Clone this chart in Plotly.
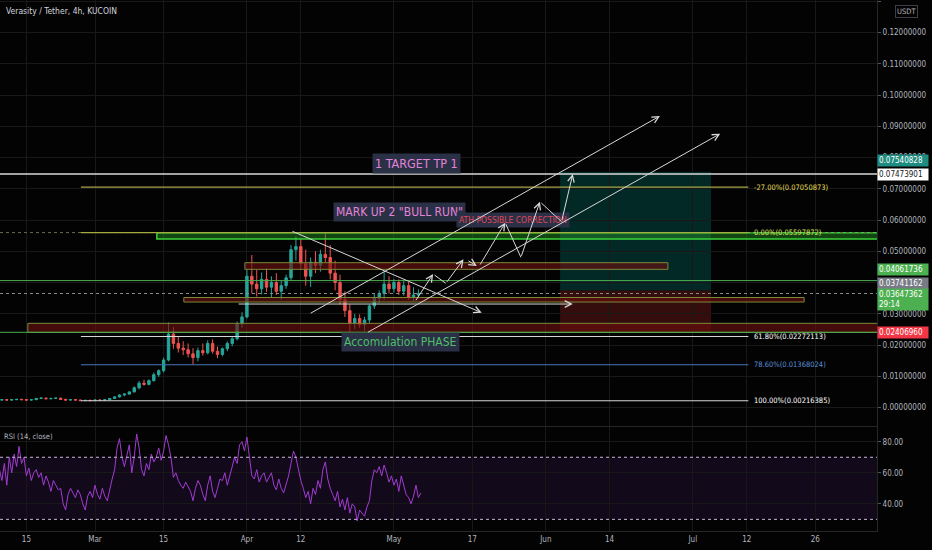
import pandas as pd
import plotly.graph_objects as go
from plotly.subplots import make_subplots

FONT = "Liberation Sans Narrow, DejaVu Sans Condensed, Arial Narrow, sans-serif"

# VRA/USDT candles, condensed to one per day from the 4h chart (Feb 9 .. May 6, 2021)
candle_start = "2021-02-09"
opens = [
    .0023, .0024, .0025, .0024, .0025, .0026, .0025, .0024, .0025, .0029,
    .0030, .0028, .0029, .0030, .0026, .0024, .0025, .0024, .0022, .0023,
    .0022, .0024, .0023, .0025, .0029, .0034, .0040, .0043, .0050, .0063,
    .0078, .0074, .0086, .0105, .0118, .0152, .0235, .0205, .0190, .0185,
    .0172, .0160, .0182, .0175, .0205, .0180, .0170, .0188, .0205, .0220, .0268,
    .0290, .0420, .0395, .0380, .0410, .0385, .0400, .0372, .0390, .0415,
    .0505, .0515, .0460, .0420, .0465, .0455, .0490, .0480, .0430, .0400,
    .0345, .0310, .0270, .0285, .0265, .0280, .0325, .0350, .0365, .0395,
    .0380, .0400, .0372, .0390, .0352, .0360,
]
highs = [
    .0026, .0027, .0027, .0026, .0028, .0028, .0027, .0026, .0030, .0033,
    .0032, .0031, .0032, .0031, .0028, .0027, .0027, .0025, .0024, .0025,
    .0025, .0026, .0026, .0030, .0036, .0042, .0045, .0052, .0068, .0085,
    .0089, .0090, .0112, .0122, .0160, .0272, .0258, .0228, .0212, .0205,
    .0190, .0192, .0205, .0215, .0218, .0195, .0192, .0212, .0228, .0275, .0305,
    .0440, .0488, .0440, .0432, .0445, .0420, .0430, .0405, .0425, .0520,
    .0547, .0540, .0505, .0480, .0500, .0505, .0558, .0520, .0470, .0425,
    .0372, .0330, .0300, .0298, .0290, .0330, .0365, .0375, .0435, .0420,
    .0412, .0410, .0405, .0402, .0385, .0378,
]
lows = [
    .0021, .0022, .0023, .0022, .0024, .0024, .0023, .0022, .0024, .0027,
    .0027, .0026, .0027, .0024, .0022, .0023, .0023, .0021, .0021, .0021,
    .0021, .0022, .0022, .0024, .0028, .0032, .0036, .0041, .0048, .0058,
    .0070, .0071, .0083, .0098, .0112, .0148, .0188, .0176, .0168, .0160,
    .0138, .0148, .0166, .0170, .0172, .0158, .0164, .0180, .0196, .0215, .0255,
    .0285, .0365, .0355, .0362, .0370, .0352, .0360, .0345, .0380, .0405,
    .0470, .0440, .0390, .0386, .0430, .0435, .0465, .0410, .0375, .0330,
    .0290, .0243, .0250, .0255, .0245, .0270, .0315, .0335, .0345, .0365,
    .0368, .0360, .0358, .0345, .0340, .0350,
]
closes = [
    .0024, .0025, .0024, .0025, .0026, .0025, .0024, .0025, .0029, .0030,
    .0028, .0029, .0030, .0026, .0024, .0025, .0024, .0022, .0023, .0022,
    .0024, .0023, .0025, .0029, .0034, .0040, .0043, .0050, .0063, .0078,
    .0074, .0086, .0105, .0118, .0152, .0235, .0205, .0190, .0185, .0172,
    .0160, .0182, .0175, .0205, .0180, .0170, .0188, .0205, .0220, .0268, .0290,
    .0420, .0395, .0380, .0410, .0385, .0400, .0372, .0390, .0415, .0505,
    .0515, .0460, .0420, .0465, .0455, .0490, .0480, .0430, .0400, .0345,
    .0310, .0270, .0285, .0265, .0280, .0325, .0350, .0365, .0395, .0380,
    .0400, .0372, .0390, .0352, .0360, .0365,
]
dates = pd.date_range(candle_start, periods=len(closes), freq="D")

# RSI(14) sampled twice a day
rsi_values = [
    76, 62, 55, 66, 52, 70, 60, 72, 64, 77, 66, 70, 58, 63, 55, 60, 62, 57, 60, 52,
    58, 54, 48, 55, 52, 49, 50, 40, 36, 46, 50, 47, 44, 49, 46, 40, 36, 45, 48, 44,
    52, 46, 43, 50, 45, 42, 50, 56, 62, 76, 82, 70, 64, 72, 78, 60, 70, 85, 76, 62,
    58, 66, 62, 72, 67, 70, 76, 68, 74, 84, 78, 70, 57, 60, 55, 52, 50, 54, 51, 48,
    42, 50, 55, 52, 46, 42, 52, 58, 48, 44, 50, 56, 55, 60, 52, 58, 64, 70, 66, 78,
    80, 74,
    83, 70, 58, 56, 62, 54, 58, 60, 54, 57, 60, 52, 49, 56, 50, 47, 52, 58, 66, 74,
    70, 62, 55, 50, 44, 48, 40, 50, 46, 55, 50, 62, 67, 56, 50, 46, 42, 48, 38, 43,
    36, 44, 34, 40, 38, 29, 36, 34, 32, 38, 42, 55, 62, 60, 64, 58, 65, 60, 54, 58,
    52, 56, 48, 58, 52, 46, 44, 40, 45, 52, 44, 47,
]
rsi_dates = pd.date_range(candle_start, periods=len(rsi_values), freq="12h")

tick_dates = ["2021-02-15", "2021-03-01", "2021-03-15", "2021-04-01", "2021-04-12", "2021-05-01",
              "2021-05-17", "2021-06-01", "2021-06-14", "2021-07-01", "2021-07-12", "2021-07-26"]
tick_text = ["15", "Mar", "15", "Apr", "12", "May", "17", "Jun", "14", "Jul", "12", "26"]

# price scale (0.04 sits under the price labels, so it has no text)
price_ticks = [0.00, 0.01, 0.02, 0.03, 0.04, 0.05, 0.06, 0.07, 0.08, 0.09, 0.10, 0.11, 0.12, 0.13]
price_tick_text = [f"{v:.8f}" if v != 0.04 else "" for v in price_ticks]

# Fib retracement drawing
fib_levels = [-0.27, 0.0, 0.618, 0.786, 1.0]
fib_prices = [0.07050873, 0.05597872, 0.02272113, 0.01368024, 0.00216385]
fib_line_colors = ["#a8a444", "#a3ad3e", "#d6d6d6", "#4677b8", "#d6d6d6"]
fib_text_colors = ["#e6df55", "#d6e158", "#ffffff", "#5b90d8", "#ffffff"]
fib_from, fib_to = "2021-02-26 03:00", "2021-07-12 08:00"

# supply / demand boxes (dark red with olive border)
zone_from = ["2021-02-15 07:00", "2021-03-31 14:00", "2021-03-19 03:00"]
zone_to = ["2021-09-30", "2021-06-25 22:00", "2021-07-23 17:00"]
zone_low = [0.02406, 0.04422, 0.03376]
zone_high = [0.02694, 0.04634, 0.03520]

# green resistance band
band_from, band_low, band_high = "2021-03-13 15:00", 0.05392, 0.05594

# long position tool
pos_from, pos_to = "2021-06-03 22:00", "2021-07-04 17:00"
pos_target, pos_entry, pos_stop = 0.07540828, 0.03741162, 0.02406960

# trend lines / projected path: start, end, arrowhead
arrow_from_date = ["2021-04-10", "2021-04-13 17:00", "2021-04-25 10:00", "2021-03-30",
                   "2021-05-05 07:00", "2021-05-09", "2021-05-11 14:00", "2021-05-15 22:00",
                   "2021-05-18 10:00", "2021-05-23 17:00", "2021-05-26 22:00", "2021-05-30 19:00",
                   "2021-06-04 05:00"]
arrow_from_price = [0.05658, 0.02992, 0.02384, 0.03312,
                    0.03386, 0.04272, 0.03974, 0.04720,
                    0.04528, 0.05914, 0.04806, 0.06586,
                    0.05946]
arrow_to_date = ["2021-05-18 22:00", "2021-06-24 07:00", "2021-07-06 14:00", "2021-06-06 12:00",
                 "2021-05-09", "2021-05-11 14:00", "2021-05-15 05:00", "2021-05-17 22:00",
                 "2021-05-23 17:00", "2021-05-26 22:00", "2021-05-30 19:00", "2021-06-04 05:00",
                 "2021-06-06 12:00"]
arrow_to_price = [0.03034, 0.09328, 0.08762, 0.03312,
                  0.04272, 0.03974, 0.04742, 0.04528,
                  0.05914, 0.04806, 0.06586, 0.05946,
                  0.07472]
arrow_head = [True, True, True, True, True, False, True, True, True, False, True, False, True]

# price labels on the right scale
label_prices = [0.07540828, 0.07473901, 0.04061736, 0.03741162, 0.03647362, 0.02406960]
label_extra = ["", "", "", "", "<br>29:14", ""]
label_bg = ["#1e8c80", "#ffffff", "#4caf50", "#787b86", "#4caf50", "#f23645"]
label_fg = ["#ffffff", "#131722", "#ffffff", "#ffffff", "#ffffff", "#ffffff"]
label_shift = [11, -1, 11, 7, -6, 0]

# text notes on the chart
note_text = ["1 TARGET TP 1", 'MARK UP 2 "BULL RUN"', "ATH POSSIBLE CORRECTION", "Accomulation PHASE"]
note_date = ["2021-05-05 17:00", "2021-05-02 02:00", "2021-05-25 05:00", "2021-05-02 10:00"]
note_price = [0.0781, 0.0627, 0.0600, 0.0211]
note_color = ["#e384d8", "#e384d8", "#e0475c", "#4fbf6a"]
note_size = [12.5, 12, 8.5, 12]

fig = make_subplots(rows=2, cols=1, shared_xaxes=True, vertical_spacing=0.002)

fig.add_trace(go.Candlestick(
    x=dates, open=opens, high=highs, low=lows, close=closes,
    increasing=dict(line=dict(color="#26a69a", width=1), fillcolor="#26a69a"),
    decreasing=dict(line=dict(color="#ef5350", width=1), fillcolor="#ef5350"),
    whiskerwidth=0, showlegend=False, hoverinfo="skip"), row=1, col=1)

fig.add_trace(go.Scatter(x=rsi_dates, y=rsi_values, mode="lines",
                         line=dict(color="#a23bd1", width=1), showlegend=False, hoverinfo="skip"),
              row=2, col=1)

# RSI band and 30/70 levels
fig.add_shape(type="rect", xref="paper", yref="y2", x0=0, x1=1, y0=30, y1=70,
              fillcolor="rgba(126,60,194,0.13)", line_width=0, layer="below")
for lvl in [30, 70]:
    fig.add_shape(type="line", xref="paper", yref="y2", x0=0, x1=1, y0=lvl, y1=lvl,
                  line=dict(color="#c8b8dc", width=1, dash="dot"))

# position tool
fig.add_shape(type="rect", xref="x", yref="y", x0=pos_from, x1=pos_to, y0=pos_entry, y1=pos_target,
              fillcolor="rgba(0,130,115,0.30)", line_width=0, layer="below")
fig.add_shape(type="rect", xref="x", yref="y", x0=pos_from, x1=pos_to, y0=pos_stop, y1=pos_entry,
              fillcolor="rgba(170,35,35,0.30)", line_width=0, layer="below")

# zones
for x0, x1, lo, hi in zip(zone_from, zone_to, zone_low, zone_high):
    fig.add_shape(type="rect", xref="x", yref="y", x0=x0, x1=x1, y0=lo, y1=hi,
                  fillcolor="rgba(110,14,14,0.62)", line=dict(color="#7b8a3a", width=1))
fig.add_shape(type="rect", xref="x", yref="y", x0=band_from, x1="2021-09-30", y0=band_low, y1=band_high,
              fillcolor="rgba(40,150,40,0.45)", line=dict(color="#3bd23b", width=1.5))

# fib levels
fig.add_shape(type="line", xref="paper", yref="y", x0=0, x1=1, y0=fib_prices[1], y1=fib_prices[1],
              line=dict(color="#6b6b4a", width=1, dash="dot"))
for lvl, p, lc, tc in zip(fib_levels, fib_prices, fib_line_colors, fib_text_colors):
    fig.add_shape(type="line", xref="x", yref="y", x0=fib_from, x1=fib_to, y0=p, y1=p,
                  line=dict(color=lc, width=1.2))
    fig.add_annotation(x="2021-07-13", y=p, xref="x", yref="y", text=f"{lvl * 100:.2f}%({p:.8f})",
                       showarrow=False, xanchor="left", font=dict(family=FONT, size=7.5, color=tc))

# horizontal lines across the chart
fig.add_shape(type="line", xref="paper", yref="y", x0=0, x1=1, y0=label_prices[1], y1=label_prices[1],
              line=dict(color="#d8d8d8", width=1.5))
for p in [label_prices[2], label_prices[5]]:
    fig.add_shape(type="line", xref="paper", yref="y", x0=0, x1=1, y0=p, y1=p,
                  line=dict(color="#4caf50", width=1))
fig.add_shape(type="line", xref="paper", yref="y", x0=0, x1=1, y0=label_prices[4], y1=label_prices[4],
              line=dict(color="#8a9088", width=1, dash="dot"))

# notes
for t, d, p, c, s in zip(note_text, note_date, note_price, note_color, note_size):
    fig.add_annotation(x=d, y=p, xref="x", yref="y", text=t, showarrow=False,
                       font=dict(family=FONT, size=s, color=c), bgcolor="#2a3045", borderpad=2)

# arrows and trend lines
for x0, y0, x1, y1, head in zip(arrow_from_date, arrow_from_price, arrow_to_date, arrow_to_price, arrow_head):
    fig.add_annotation(x=x1, y=y1, ax=x0, ay=y0, xref="x", yref="y", axref="x", ayref="y",
                       text="", showarrow=True, arrowhead=5 if head else 0, arrowsize=1.3,
                       arrowwidth=1, arrowcolor="#d8d8d8", standoff=0)

# right scale labels
for p, extra, bg, fg, sh in zip(label_prices, label_extra, label_bg, label_fg, label_shift):
    fig.add_annotation(x=1, y=p, xref="paper", yref="y", text=f"{p:.8f}{extra}", showarrow=False,
                       xanchor="left", align="left", yshift=sh, width=48, height=19 if extra else 9,
                       bgcolor=bg, borderpad=1, font=dict(family=FONT, size=8, color=fg))

fig.add_annotation(x=1, y=1, xref="paper", yref="paper", text="USDT", showarrow=False, xanchor="left",
                   yanchor="top", xshift=18, yshift=-5, bordercolor="#3a3e48", borderwidth=1, borderpad=1,
                   font=dict(family=FONT, size=7.5, color="#b2b5be"))
fig.add_annotation(x=0, y=1, xref="paper", yref="paper", text="Verasity / Tether, 4h, KUCOIN",
                   showarrow=False, xanchor="left", yanchor="middle", xshift=4, yshift=-11,
                   font=dict(family=FONT, size=8.5, color="#d1d4dc"))
fig.add_annotation(x=0, y=0.1959, xref="paper", yref="paper", text="RSI (14, close)",
                   showarrow=False, xanchor="left", yanchor="middle", xshift=2, yshift=-10,
                   font=dict(family=FONT, size=7.5, color="#b2b5be"))

grid = "#181818"
xcommon = dict(range=["2021-02-09 14:40", "2021-08-07 14:00"], tickmode="array", tickvals=tick_dates,
               ticktext=tick_text, showgrid=True, gridcolor=grid, zeroline=False,
               showline=True, linecolor="#262626", rangeslider=dict(visible=False))
fig.update_xaxes(**xcommon)
fig.update_layout(
    width=932, height=550,
    margin=dict(l=0, r=55, t=0, b=19),
    paper_bgcolor="#030303", plot_bgcolor="#030303",
    font=dict(family=FONT, size=8, color="#b2b5be"),
    showlegend=False,
    xaxis=dict(showticklabels=False, rangeslider=dict(visible=False)),
    xaxis2=dict(showticklabels=True, ticks="", tickfont=dict(size=8, color="#b2b5be")),
    yaxis=dict(domain=[0.1977, 1], range=[-0.00592, 0.1304], side="right", tickmode="array",
               tickvals=price_ticks, ticktext=price_tick_text, gridcolor=grid, zeroline=False,
               ticks="outside", ticklen=3, tickcolor="#555", showline=True, linecolor="#262626"),
    yaxis2=dict(domain=[0, 0.1959], range=[22.5, 89.5], side="right", tickvals=[40, 60, 80],
                tickformat=".2f", gridcolor=grid, zeroline=False, ticks="outside", ticklen=3,
                tickcolor="#555", showline=True, linecolor="#262626"),
)

fig.write_html("out.html", config={"displayModeBar": False},
               post_script="document.body.style.margin='0';")
